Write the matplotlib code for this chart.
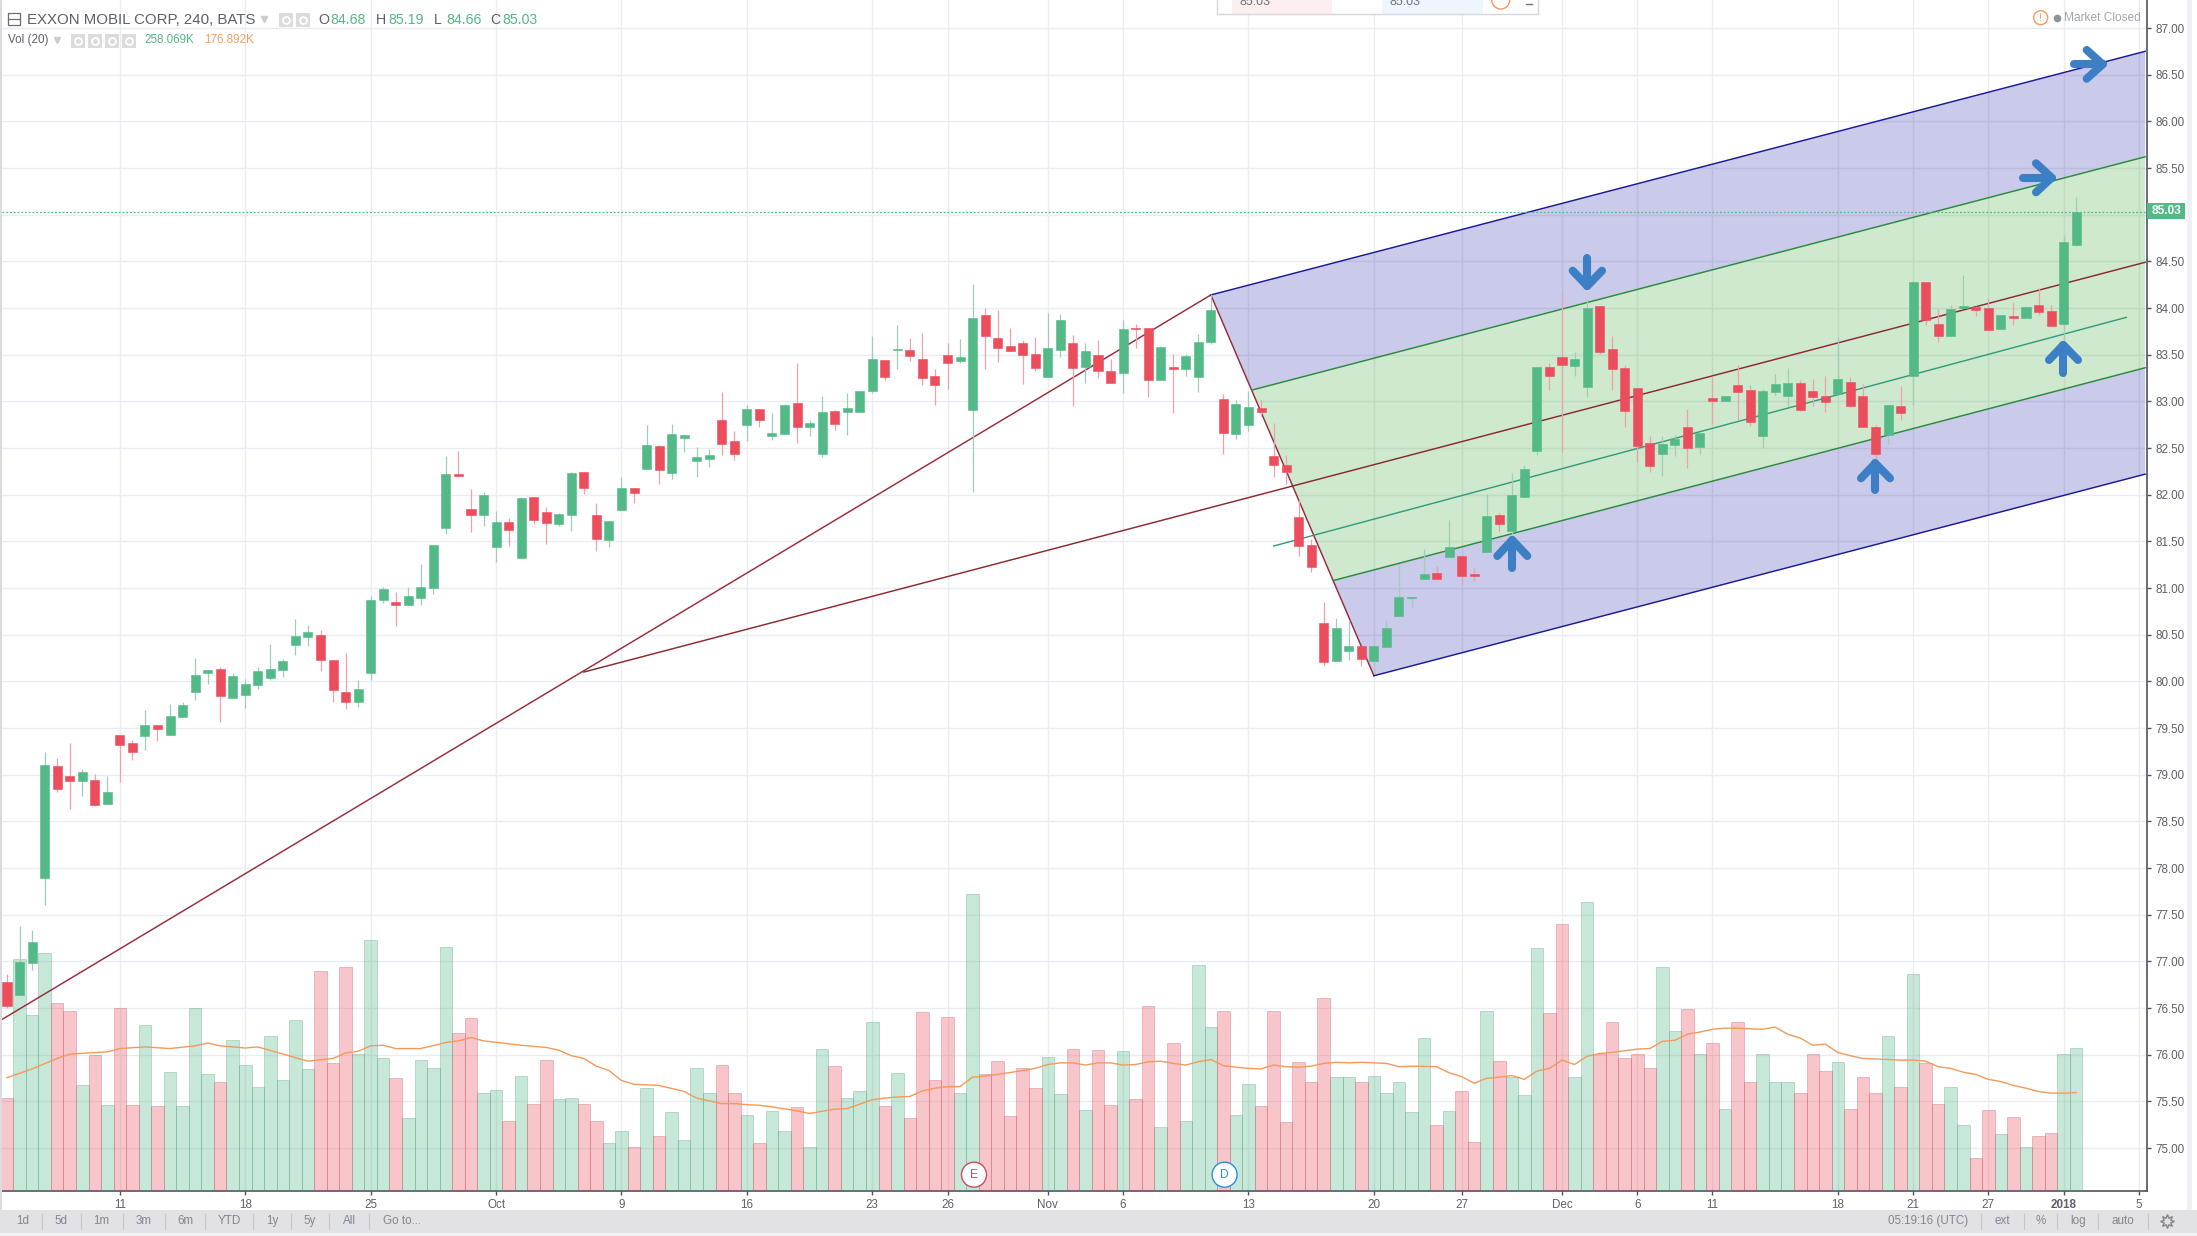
import matplotlib
matplotlib.use('Agg')
import matplotlib.pyplot as plt
from matplotlib.patches import Rectangle, Circle, Ellipse
import numpy as np

plt.rcParams['font.family'] = ['Liberation Sans', 'DejaVu Sans']

opens = [76.78, 76.64, 76.98, 77.89, 79.09, 78.99, 78.93, 78.94, 78.69, 79.43,
         79.34, 79.41, 79.53, 79.43, 79.62, 79.89, 80.09, 80.13, 79.82, 79.85,
         79.96, 80.04, 80.12, 80.39, 80.48, 80.50, 80.23, 79.89, 79.78, 80.09,
         80.87, 80.85, 80.82, 80.89, 81.00, 81.64, 82.22, 81.85, 81.78, 81.44,
         81.71, 81.32, 81.98, 81.81, 81.69, 81.78, 82.24, 81.78, 81.51, 81.84,
         82.07, 82.28, 82.52, 82.23, 82.61, 82.36, 82.38, 82.80, 82.57, 82.75,
         82.92, 82.63, 82.65, 82.98, 82.72, 82.44, 82.90, 82.89, 82.89, 83.11,
         83.44, 83.55, 83.55, 83.45, 83.27, 83.50, 83.43, 82.91, 83.93, 83.68,
         83.59, 83.62, 83.51, 83.26, 83.55, 83.62, 83.37, 83.50, 83.33, 83.30,
         83.79, 83.79, 83.23, 83.37, 83.35, 83.26, 83.64, 83.03, 82.65, 82.75,
         82.93, 82.41, 82.32, 81.76, 81.46, 80.63, 80.22, 80.33, 80.38, 80.22,
         80.37, 80.70, 80.89, 81.10, 81.16, 81.33, 81.34, 81.15, 81.39, 81.78,
         81.61, 81.98, 82.47, 83.37, 83.47, 83.38, 83.15, 84.02, 83.56, 83.36,
         83.14, 82.55, 82.44, 82.53, 82.73, 82.51, 83.04, 83.00, 83.17, 83.12,
         82.63, 83.10, 83.06, 83.20, 83.11, 83.06, 83.08, 83.21, 83.06, 82.72,
         82.64, 82.95, 83.27, 84.28, 83.83, 83.70, 84.00, 84.01, 84.00, 83.77,
         83.91, 83.89, 84.03, 83.97, 83.83, 84.68]
highs = [76.87, 77.38, 77.34, 79.24, 79.18, 79.34, 79.06, 79.01, 78.99, 79.43,
         79.37, 79.69, 79.53, 79.76, 79.78, 80.25, 80.12, 80.15, 80.09, 80.03,
         80.15, 80.40, 80.24, 80.67, 80.60, 80.55, 80.23, 80.30, 80.01, 80.91,
         81.01, 80.96, 81.01, 81.26, 81.46, 82.41, 82.47, 82.06, 82.03, 81.82,
         81.75, 81.98, 81.98, 81.87, 81.80, 82.24, 82.24, 81.91, 81.72, 82.19,
         82.07, 82.75, 82.53, 82.76, 82.64, 82.51, 82.49, 83.10, 82.68, 82.96,
         82.92, 82.87, 82.97, 83.41, 82.80, 83.06, 82.91, 83.09, 83.11, 83.70,
         83.44, 83.82, 83.68, 83.73, 83.35, 83.62, 83.67, 84.26, 84.00, 83.98,
         83.79, 83.66, 83.69, 83.95, 83.94, 83.71, 83.63, 83.66, 83.45, 83.87,
         83.83, 83.79, 83.59, 83.51, 83.51, 83.72, 84.15, 83.08, 83.01, 83.11,
         83.01, 82.77, 82.43, 81.94, 81.52, 80.85, 80.68, 80.66, 80.38, 80.38,
         80.66, 81.25, 80.90, 81.42, 81.24, 81.73, 81.34, 81.21, 82.01, 81.80,
         82.23, 82.32, 83.37, 83.41, 84.16, 83.53, 84.09, 84.02, 83.70, 83.39,
         83.14, 82.63, 82.63, 82.64, 82.92, 82.66, 83.27, 83.06, 83.39, 83.17,
         83.13, 83.29, 83.36, 83.23, 83.24, 83.27, 83.69, 83.26, 83.19, 82.75,
         82.96, 83.16, 84.28, 84.28, 83.99, 84.03, 84.35, 84.02, 84.11, 83.92,
         84.06, 84.01, 84.21, 84.03, 84.77, 85.19]
lows = [76.50, 76.64, 76.91, 77.60, 78.81, 78.63, 78.77, 78.66, 78.69, 78.92,
        79.16, 79.27, 79.36, 79.43, 79.62, 79.80, 79.97, 79.57, 79.82, 79.72,
        79.92, 80.02, 80.05, 80.28, 80.38, 80.11, 79.78, 79.70, 79.73, 80.01,
        80.84, 80.59, 80.82, 80.82, 80.94, 81.58, 82.20, 81.60, 81.66, 81.28,
        81.45, 81.32, 81.69, 81.47, 81.66, 81.61, 82.01, 81.40, 81.44, 81.84,
        81.91, 82.28, 82.11, 82.17, 82.46, 82.19, 82.30, 82.42, 82.37, 82.57,
        82.73, 82.59, 82.65, 82.55, 82.63, 82.40, 82.69, 82.64, 82.89, 83.09,
        83.23, 83.35, 83.43, 83.17, 82.96, 83.13, 83.41, 82.03, 83.35, 83.42,
        83.54, 83.19, 83.33, 83.26, 83.48, 82.95, 83.20, 83.25, 83.20, 83.09,
        83.57, 83.05, 83.23, 82.88, 83.27, 83.10, 83.61, 82.44, 82.60, 82.68,
        82.84, 82.19, 82.11, 81.34, 81.17, 80.17, 80.22, 80.23, 80.17, 80.18,
        80.37, 80.70, 80.80, 81.10, 81.10, 81.33, 81.04, 81.08, 81.39, 81.60,
        81.57, 81.98, 82.43, 83.12, 82.46, 83.27, 83.05, 83.51, 83.12, 82.73,
        82.35, 82.24, 82.20, 82.41, 82.29, 82.44, 82.76, 83.00, 82.80, 82.74,
        82.50, 83.07, 82.95, 82.90, 82.95, 82.89, 83.08, 82.94, 82.72, 82.38,
        82.54, 82.80, 82.96, 83.82, 83.64, 83.70, 84.00, 83.91, 83.76, 83.77,
        83.82, 83.89, 83.92, 83.81, 83.66, 84.66]
closes = [76.52, 76.99, 77.21, 79.10, 78.85, 78.93, 79.03, 78.68, 78.82, 79.32,
          79.24, 79.53, 79.49, 79.63, 79.75, 80.07, 80.12, 79.84, 80.06, 79.97,
          80.11, 80.13, 80.22, 80.49, 80.53, 80.23, 79.91, 79.78, 79.92, 80.87,
          80.99, 80.82, 80.91, 81.01, 81.46, 82.22, 82.20, 81.78, 82.00, 81.71,
          81.62, 81.96, 81.73, 81.70, 81.79, 82.23, 82.07, 81.52, 81.72, 82.07,
          82.02, 82.53, 82.26, 82.65, 82.64, 82.40, 82.43, 82.54, 82.44, 82.92,
          82.80, 82.66, 82.96, 82.73, 82.77, 82.89, 82.76, 82.93, 83.11, 83.45,
          83.26, 83.56, 83.49, 83.25, 83.17, 83.41, 83.47, 83.89, 83.70, 83.57,
          83.54, 83.50, 83.36, 83.57, 83.87, 83.36, 83.54, 83.32, 83.20, 83.78,
          83.77, 83.23, 83.58, 83.35, 83.49, 83.64, 83.98, 82.66, 82.97, 82.94,
          82.89, 82.32, 82.24, 81.45, 81.23, 80.21, 80.57, 80.38, 80.24, 80.38,
          80.57, 80.90, 80.90, 81.15, 81.10, 81.44, 81.13, 81.13, 81.77, 81.69,
          82.00, 82.28, 83.37, 83.27, 83.39, 83.45, 84.00, 83.53, 83.35, 82.90,
          82.52, 82.31, 82.54, 82.60, 82.50, 82.66, 83.00, 83.06, 83.10, 82.78,
          83.11, 83.19, 83.20, 82.91, 83.05, 82.99, 83.24, 82.95, 82.72, 82.44,
          82.96, 82.88, 84.28, 83.87, 83.70, 83.99, 84.02, 83.98, 83.76, 83.92,
          83.89, 84.01, 83.96, 83.81, 84.71, 85.03]
# volume in thousands
volumes = [167, 419, 318, 430, 339, 325, 190, 245, 154, 330,
           154, 299, 152, 214, 152, 330, 210, 196, 272, 228,
           188, 279, 199, 308, 219, 397, 230, 406, 248, 454,
           239, 203, 130, 236, 221, 441, 286, 312, 176, 181,
           125, 208, 157, 237, 165, 168, 157, 125, 85, 108,
           79, 185, 98, 141, 90, 221, 176, 227, 177, 137,
           85, 143, 107, 150, 78, 256, 225, 167, 179, 306,
           152, 212, 130, 323, 199, 314, 176, 537, 210, 234,
           134, 221, 185, 241, 174, 257, 145, 254, 154, 252,
           165, 334, 114, 267, 125, 408, 297, 325, 136, 192,
           152, 325, 123, 232, 197, 348, 205, 205, 197, 208,
           177, 196, 141, 276, 119, 143, 179, 88, 326, 234,
           205, 172, 439, 321, 483, 205, 523, 248, 306, 239,
           247, 221, 405, 288, 328, 248, 267, 147, 305, 197,
           248, 196, 196, 177, 248, 216, 232, 147, 205, 177,
           279, 187, 392, 230, 156, 187, 118, 59, 145, 101,
           132, 78, 99, 103, 248, 258]
ma_idx = [0, 2, 4, 5, 8, 9, 11, 13, 15, 16, 17, 19, 20, 22, 24, 26, 27, 28, 29, 30,
          31, 33, 35, 36, 37, 38, 41, 43, 44, 45, 46, 47, 48, 49, 50, 52, 54, 55, 56, 57,
          58, 59, 60, 61, 63, 64, 65, 66, 67, 68, 69, 70, 71, 72, 73, 74, 75, 76, 77, 78,
          79, 81, 82, 83, 84, 85, 86, 87, 88, 89, 90, 91, 92, 93, 94, 95, 96, 97, 98, 99,
          100, 101, 102, 103, 104, 105, 106, 107, 108, 110, 111, 112, 114, 115, 116, 117, 118, 119, 120, 121,
          122, 123, 124, 125, 126, 127, 128, 129, 130, 131, 132, 133, 134, 135, 136, 137, 138, 140, 141, 142,
          143, 144, 145, 146, 147, 148, 149, 150, 151, 152, 153, 154, 155, 156, 157, 158, 159, 160, 161, 162,
          163, 164, 165]
ma_vals = [204, 220, 239, 247, 251, 257, 260, 257, 262, 267, 262, 258, 260, 247, 234, 239, 249, 252, 262, 263,
           257, 257, 268, 271, 277, 271, 263, 259, 254, 244, 239, 225, 217, 199, 192, 190, 179, 167, 162, 157,
           157, 155, 154, 151, 144, 139, 143, 147, 148, 156, 164, 167, 169, 170, 180, 185, 188, 188, 205, 207,
           210, 217, 221, 228, 231, 231, 227, 231, 231, 227, 228, 233, 234, 230, 227, 233, 237, 226, 223, 221,
           220, 227, 224, 223, 225, 230, 232, 231, 232, 230, 224, 225, 224, 213, 206, 194, 203, 205, 208, 201,
           216, 221, 236, 228, 243, 248, 250, 253, 256, 257, 270, 272, 283, 287, 292, 294, 294, 292, 296, 283,
           276, 263, 265, 250, 244, 239, 238, 237, 236, 236, 234, 224, 221, 214, 210, 201, 197, 190, 185, 179,
           176, 176, 177]
x_ticks = [9, 19, 29, 39, 49, 59, 69, 75, 83, 89, 99, 109, 116, 124, 130, 136, 146, 152, 158, 164, 170]
x_labels = ['11', '18', '25', 'Oct', '9', '16', '23', '26', 'Nov', '6', '13', '20', '27',
            'Dec', '6', '11', '18', '21', '27', '2018', '5']
price_ticks = np.arange(75, 87.5, 0.5)
last_price = 85.03

# pitchfork anchors (bar index, price)
handle = [(-0.37, 76.38), (96, 84.14), (109, 80.06)]
median = [(46, 80.10), (170.5, 84.49)]
upper = [(96, 84.14), (170.5, 86.75)]
upper_in = [(99.25, 83.12), (170.5, 85.62)]
lower_in = [(105.75, 81.08), (170.5, 83.36)]
lower = [(109, 80.06), (170.5, 82.22)]
inner = [(101, 81.45), (169, 83.90)]

UP = '#53b987'
DOWN = '#eb4d5c'
WICK_UP = '#9fcdb8'
WICK_DOWN = '#f0a0aa'
GRID = '#e9ecf0'
TEXT = '#5d606b'
BTN = '#83868f'

fig = plt.figure(figsize=(21.97, 12.36), dpi=100, facecolor='white')
rect = [2 / 2197, 45 / 1236, 2145 / 2197, 1191 / 1236]
xlim = (-0.399, 170.65)

# base axes carries grid and price labels
ax_base = fig.add_axes(rect, zorder=0)
ax_base.set_xlim(xlim)
ax_base.set_ylim(74.54, 87.30)
ax_base.set_xticks(x_ticks)
ax_base.set_xticklabels(x_labels)
ax_base.set_yticks(price_ticks)
# the 85.00 label sits under the last price tag
ax_base.set_yticklabels(['' if p == 85 else '%.2f' % p for p in price_ticks])
ax_base.yaxis.tick_right()
ax_base.grid(True, color=GRID, lw=1.0)
ax_base.set_axisbelow(True)
ax_base.tick_params(axis='y', length=3, width=1, color='#50535e', labelsize=8.4, labelcolor=TEXT, pad=3)
ax_base.tick_params(axis='x', length=3, width=1, color='#50535e', labelsize=8.4, labelcolor=TEXT, pad=3)
for lab in ax_base.get_xticklabels():
    if lab.get_text() == '2018':
        lab.set_fontweight('bold')
for side in ['top', 'left']:
    ax_base.spines[side].set_visible(False)
for side in ['right', 'bottom']:
    ax_base.spines[side].set_color('#50535e')
    ax_base.spines[side].set_linewidth(1.2)

# volume pane
ax_vol = fig.add_axes(rect, zorder=1)
ax_vol.patch.set_visible(False)
ax_vol.axis('off')
ax_vol.set_xlim(xlim)
ax_vol.set_ylim(-1.8, 2162)
idx = np.arange(len(closes))
up = np.array(closes) >= np.array(opens)
ax_vol.bar(idx[up], np.array(volumes)[up], width=1.0, color=UP, alpha=0.32, edgecolor='#3c8f69', lw=0.6)
ax_vol.bar(idx[~up], np.array(volumes)[~up], width=1.0, color=DOWN, alpha=0.32, edgecolor='#c23a4a', lw=0.6)
ax_vol.plot(ma_idx, ma_vals, color='#f39a5b', lw=1.0)

# pitchfork and candles
ax = fig.add_axes(rect, zorder=2)
ax.patch.set_visible(False)
ax.axis('off')
ax.set_xlim(xlim)
ax.set_ylim(74.54, 87.30)


def band(a, b, color):
    xs = [a[0][0], a[1][0], b[1][0], b[0][0]]
    ys = [a[0][1], a[1][1], b[1][1], b[0][1]]
    ax.fill(xs, ys, color=color, alpha=0.23, lw=0, zorder=1)


band(upper, upper_in, '#1c1ca8')
band(upper_in, lower_in, '#2ca02c')
band(lower_in, lower, '#1c1ca8')

for line, col, lw in [(handle, '#9a2a3c', 1.05), (median, '#8a2a2e', 1.05), (upper, '#1a1a96', 1.05),
                      (lower, '#1a1a96', 1.05), (upper_in, '#2b8a3e', 1.05), (lower_in, '#2b8a3e', 1.05),
                      (inner, '#2f9a78', 1.0)]:
    ax.plot([p[0] for p in line], [p[1] for p in line], color=col, lw=lw, zorder=2)

ax.axhline(last_price, color=UP, lw=0.9, ls=(0, (1.5, 1.5)), zorder=2)

o = np.array(opens)
c = np.array(closes)
ax.vlines(idx[up], np.array(lows)[up], np.array(highs)[up], color=WICK_UP, lw=0.9, zorder=3)
ax.vlines(idx[~up], np.array(lows)[~up], np.array(highs)[~up], color=WICK_DOWN, lw=0.9, zorder=3)
ax.bar(idx[up], (c - o)[up], bottom=o[up], width=0.72, color=UP, edgecolor=UP, lw=0.4, zorder=4)
ax.bar(idx[~up], (c - o)[~up], bottom=o[~up], width=0.72, color=DOWN, edgecolor=DOWN, lw=0.4, zorder=4)

# screen furniture in pixel coordinates
ui = fig.add_axes([0, 0, 1, 1], zorder=3)
ui.patch.set_visible(False)
ui.axis('off')
ui.set_xlim(0, 2197)
ui.set_ylim(1236, 0)


def txt(x, y, s, color=TEXT, size=8.4, ha='left', **kw):
    ui.text(x, y, s, color=color, fontsize=size, ha=ha, va='center', **kw)


def box(x0, y0, x1, y1, color, **kw):
    ui.add_patch(Rectangle((x0, y0), x1 - x0, y1 - y0, facecolor=color, edgecolor='none', **kw))


# left border, right strip
box(0, 0, 2, 1210, '#d9dbe1')
box(2187, 0, 2192, 1210, '#f0f1f5')

# bottom toolbar
box(0, 1210, 2197, 1233, '#e1e1e6')
box(0, 1233, 2197, 1236, '#f1f1f5')
for x, s in zip([22.6, 61, 101.5, 143.5, 185, 229, 272, 310, 349, 401.6],
                ['1d', '5d', '1m', '3m', '6m', 'YTD', '1y', '5y', 'All', 'Go to...']):
    txt(x, 1221, s, color=BTN, ha='center')
for x in [41.5, 80.7, 122.7, 164.7, 205, 252.5, 290.7, 329.4, 368.6, 1980.5, 2024, 2057, 2098, 2147.6]:
    ui.plot([x, x], [1214, 1229], color='#c5c6cc', lw=0.8)
for x, s in zip([1928, 2002, 2040.5, 2078, 2123], ['05:19:16 (UTC)', 'ext', '%', 'log', 'auto']):
    txt(x, 1221, s, color=BTN, ha='center')
ui.plot([2167.4], [1221], marker=(8, 1, 0), ms=10, mfc='#e1e1e6', mec=BTN, mew=1)

# header
ui.add_patch(Rectangle((8, 13), 12, 12, facecolor='white', edgecolor='#6a6d78', lw=0.9))
ui.plot([8, 20], [19, 19], color='#6a6d78', lw=0.9)
txt(27, 19.5, 'EXXON MOBIL CORP, 240, BATS', size=10.8)
ui.plot([264], [19], marker='v', ms=4.5, color='#c9cbd1')
for x in [279, 296, 71, 88, 105, 122]:
    y = 13 if x > 200 else 34
    box(x, y, x + 14, y + 13.5, '#dcdcdc')
    ui.plot([x + 7], [y + 6.7], marker='o', ms=5, mfc='none', mec='white', mew=1.3)
for x, lab, val in [(318, 'O', '84.68'), (376, 'H', '85.19'), (434, 'L', '84.66'), (490, 'C', '85.03')]:
    txt(x, 20, lab, size=10.2)
    txt(x + 12.5, 20, val, color=UP, size=10.2)
txt(8, 40, 'Vol (20)', size=8.4)
ui.plot([57], [40], marker='v', ms=4, color='#c9cbd1')
txt(144, 40, '258.069K', color=UP, size=8.4)
txt(204, 40, '176.892K', color='#f5a05a', size=8.4)

# market status
ui.add_patch(Circle((2040.7, 17.7), 7, facecolor='white', edgecolor='#f39a5b', lw=1))
txt(2040.7, 17.7, '!', color='#f39a5b', size=8, ha='center')
ui.plot([2057], [18], marker='o', ms=4.5, color='#8f9299')
txt(2064, 18, 'Market Closed', color='#a3a6ad', size=8.6)

# floating order box cut off by the top edge
box(1217, 0, 1538, 14, 'white')
ui.plot([1217, 1217, 1538, 1538], [0, 14, 14, 0], color='#d5d6da', lw=1)
box(1232, 0, 1332, 13.5, '#fdeef0')
box(1382, 0, 1483, 13.5, '#edf6fc')
txt(1240, 2, '85.03', color='#70737c', size=9)
txt(1390, 2, '85.03', color='#70737c', size=9)
ui.add_patch(Circle((1500.7, 0), 9, facecolor='white', edgecolor='#f39a5b', lw=1))
ui.plot([1526, 1532], [3.5, 3.5], color='#70737c', lw=1)

# last price tag
box(2147, 203, 2185, 219, UP)
txt(2166, 211.5, '85.03', color='white', size=8.6, ha='center', fontweight='bold')

# event markers
for x, s, col in [(974, 'E', '#c94b5e'), (1224.6, 'D', '#2a8fe0')]:
    ui.add_patch(Ellipse((x, 1174.7), 25, 25, facecolor='white', edgecolor=col, lw=1))
    txt(x, 1175, s, color=col, size=8.6, ha='center')

# hand drawn arrows
ARROW = '#3d7fc4'
arrows = [
    ([(1587.3, 258.3), (1587.3, 286)], [(1572.7, 270.7), (1587.3, 286), (1602, 270.7)]),
    ([(1512.3, 568), (1512.3, 540)], [(1497.3, 556), (1512.3, 540), (1527.3, 556)]),
    ([(1875.3, 490), (1875.3, 463.3)], [(1861, 478.3), (1875.3, 463.3), (1890, 478.3)]),
    ([(2063.3, 372.7), (2063.3, 345)], [(2049, 360), (2063.3, 345), (2078, 360)]),
    ([(2074, 64.3), (2102.7, 64.3)], [(2086.7, 50), (2102.7, 64.3), (2086.7, 78.7)]),
    ([(2023.3, 177.7), (2051.7, 177.7)], [(2036, 163.3), (2051.7, 177.7), (2036, 192.3)]),
]
for shaft, head in arrows:
    for part in (shaft, head):
        ui.plot([p[0] for p in part], [p[1] for p in part], color=ARROW, lw=5.8,
                solid_capstyle='round', solid_joinstyle='round')

fig.savefig('out.png', dpi=100)
